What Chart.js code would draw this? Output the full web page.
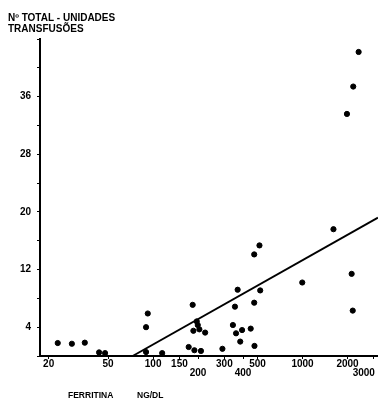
<!DOCTYPE html>
<html>
<head>
<meta charset="utf-8">
<script src="https://cdn.jsdelivr.net/npm/chart.js@4"></script>
<style>
  html, body { margin: 0; padding: 0; background: #fff; }
  #caixa { width: 378px; height: 401px; }
</style>
</head>
<body>
<div id="caixa"><canvas id="grafico" width="378" height="401"></canvas></div>
<script>
// ============================================================
// DADOS - ferritina (ng/dl) x nº total de unidades transfundidas
// ============================================================
const ferritina = [
  23, 28.6, 34.9, 43.5, 47.7, 89.7, 92.1, 89.7, 115, 173,
  189, 209, 184, 196, 199, 186, 204, 223, 291, 368,
  353, 342, 359, 394, 450, 383, 475, 477, 475, 515,
  521, 996, 1611, 2132, 2168, 2374, 2185, 1983
];
const transfusoes = [
  1.8, 1.7, 1.85, 0.5, 0.4, 4.0, 5.9, 0.55, 0.4, 1.25,
  0.8, 0.7, 7.1, 4.8, 4.3, 3.5, 3.7, 3.25, 1.0, 9.2,
  6.85, 4.3, 3.15, 3.6, 3.8, 2.0, 7.4, 1.4, 14.1, 15.35,
  9.1, 10.2, 17.6, 11.4, 6.3, 42.2, 37.4, 33.6
];

// reta de regressão (extremos)
const retaX = [73, 3200];
const retaY = [0, 19.2];

// eixos
const ticksX = [20, 50, 100, 150, 200, 300, 400, 500, 1000, 2000, 3000];
const ticksXSegundaLinha = [200, 400, 3000];
const rotulosY = [4, 12, 20, 28, 36];

const FONTE = '"Liberation Sans", Arial, sans-serif';

// ============================================================
// TEXTOS DOS EIXOS (desenhados por plugin)
// ============================================================
const titulosEixos = {
  id: 'titulosEixos',
  afterDraw(chart) {
    const ctx = chart.ctx;
    ctx.save();
    ctx.fillStyle = '#000';
    ctx.textBaseline = 'alphabetic';
    ctx.font = 'bold 10px ' + FONTE;
    ctx.fillText('Nº TOTAL - UNIDADES', 8, 21);
    ctx.fillText('TRANSFUSÕES', 8, 32);
    ctx.font = 'bold 8.5px ' + FONTE;
    ctx.fillText('FERRITINA', 68, 398);
    ctx.fillText('NG/DL', 137, 398);
    ctx.restore();
  }
};

// ============================================================
// GRÁFICO
// ============================================================
const pontos = ferritina.map((x, i) => ({ x: x, y: transfusoes[i] }));
const reta = retaX.map((x, i) => ({ x: x, y: retaY[i] }));

function rotuloX(v) {
  const txt = String(v);
  // o último rótulo fica encostado na borda: espaços à direita puxam-no para dentro
  if (v === ticksX[ticksX.length - 1]) return ['', txt + '\u2002\u2002\u2002\u2002'];
  return ticksXSegundaLinha.includes(v) ? ['', txt] : txt;
}

new Chart(document.getElementById('grafico'), {
  type: 'scatter',
  data: {
    datasets: [
      {
        data: pontos,
        backgroundColor: '#000',
        borderColor: '#000',
        pointRadius: 2.6,
        pointHoverRadius: 2.6
      },
      {
        type: 'line',
        data: reta,
        borderColor: '#000',
        borderWidth: 2,
        pointRadius: 0,
        fill: false
      }
    ]
  },
  options: {
    responsive: false,
    animation: false,
    clip: false,
    layout: { autoPadding: false, padding: { top: 39, right: 0, left: 0, bottom: 0 } },
    plugins: { legend: { display: false }, tooltip: { enabled: false } },
    scales: {
      x: {
        type: 'logarithmic',
        min: 17.5,
        max: 3200,
        afterBuildTicks(scale) {
          scale.ticks = ticksX.map(v => ({ value: v }));
        },
        afterFit(scale) {
          scale.height = 45;
          scale.paddingLeft = 0;
          scale.paddingRight = 0;
        },
        border: { color: '#000', width: 2 },
        grid: { drawOnChartArea: false, tickLength: 3, color: '#000', lineWidth: 1 },
        ticks: {
          autoSkip: false,
          maxRotation: 0,
          padding: 1,
          color: '#000',
          font: { family: FONTE, size: 10, weight: 'bold', lineHeight: 0.9 },
          callback: rotuloX
        }
      },
      y: {
        min: 0,
        max: 44,
        afterFit(scale) {
          scale.width = 40;
          scale.paddingTop = 0;
          scale.paddingBottom = 0;
        },
        border: { color: '#000', width: 2 },
        grid: { drawOnChartArea: false, tickLength: 3, color: '#000', lineWidth: 1 },
        ticks: {
          stepSize: 4,
          padding: 6,
          color: '#000',
          font: { family: FONTE, size: 10, weight: 'bold' },
          callback(v) {
            return rotulosY.includes(v) ? String(v) : '';
          }
        }
      }
    }
  },
  plugins: [titulosEixos]
});
</script>
</body>
</html>
